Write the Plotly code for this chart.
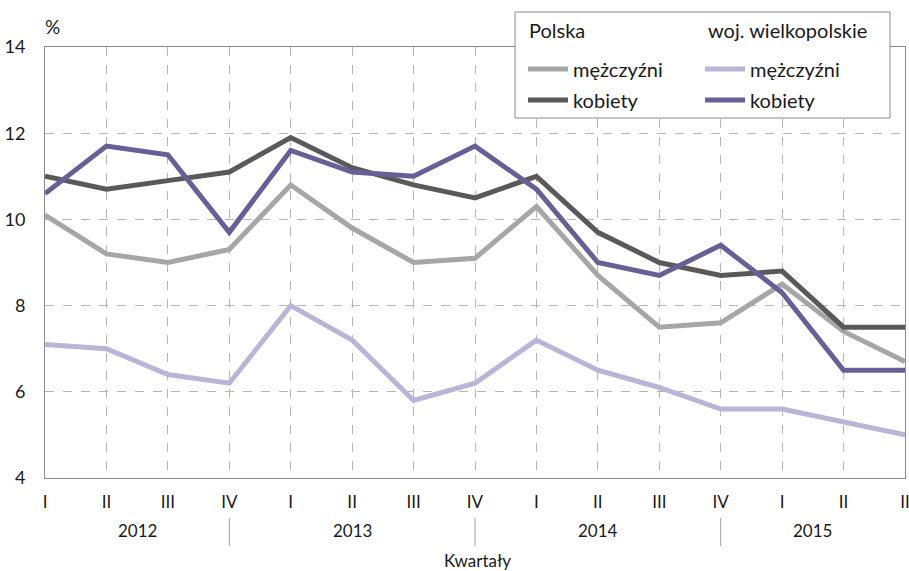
import plotly.graph_objects as go

quarters = ["I", "II", "III", "IV", "I", "II", "III", "IV", "I", "II", "III", "IV", "I", "II", "II"]
years = ["2012", "2013", "2014", "2015"]
year_centers = [1.5, 5, 9, 12.5]
year_separators = [3, 7, 11]

polska_m = [10.1, 9.2, 9.0, 9.3, 10.8, 9.8, 9.0, 9.1, 10.3, 8.7, 7.5, 7.6, 8.5, 7.4, 6.7]
polska_k = [11.0, 10.7, 10.9, 11.1, 11.9, 11.2, 10.8, 10.5, 11.0, 9.7, 9.0, 8.7, 8.8, 7.5, 7.5]
wlkp_m = [7.1, 7.0, 6.4, 6.2, 8.0, 7.2, 5.8, 6.2, 7.2, 6.5, 6.1, 5.6, 5.6, 5.3, 5.0]
wlkp_k = [10.6, 11.7, 11.5, 9.7, 11.6, 11.1, 11.0, 11.7, 10.7, 9.0, 8.7, 9.4, 8.3, 6.5, 6.5]

x = list(range(len(quarters)))
FONT = "Lato"
TXT = "#1a1a1a"
W, H = 909, 571
L, R, T, B = 45, 4, 47, 93
pw, ph = W - L - R, H - T - B

def px_x(p):
    return (p - L) / pw

def px_y(p):
    return (H - B - p) / ph

fig = go.Figure()
# (values, name, colour, legend id, legend left px, legend row centre px)
series = [
    (polska_m, "mężczyźni", "#a6a6a6", "legend", 523, 69),
    (polska_k, "kobiety", "#5b5859", "legend2", 523, 100),
    (wlkp_m, "mężczyźni", "#bbb4d7", "legend3", 700, 69),
    (wlkp_k, "kobiety", "#676097", "legend4", 700, 100),
]
order = [2, 0, 1, 3]
for i in order:
    vals, name, col, lg, _, _ = series[i]
    fig.add_trace(go.Scatter(x=x, y=vals, mode="lines", name=name,
                             line=dict(color=col, width=5), legend=lg,
                             hoverinfo="skip"))

legends = {}
for vals, name, col, lg, lx, ly in series:
    legends[lg] = dict(
        x=px_x(lx), y=px_y(ly), xref="paper", yref="paper",
        xanchor="left", yanchor="middle",
        bgcolor="rgba(0,0,0,0)", borderwidth=0,
        font=dict(family=FONT, size=20, color=TXT),
        itemwidth=40,
    )

shapes = []
for s in year_separators:
    shapes.append(dict(type="line", xref="x", yref="paper", x0=s, x1=s,
                       y0=px_y(518), y1=px_y(546), line=dict(color="#a0a0a0", width=1)))
shapes.append(dict(type="rect", xref="paper", yref="paper", layer="above",
                   x0=px_x(515), x1=px_x(890), y0=px_y(118), y1=px_y(12),
                   fillcolor="white", line=dict(color="#8c8c8c", width=1)))

annotations = []
for yr, c in zip(years, year_centers):
    annotations.append(dict(x=c, y=px_y(530), xref="x", yref="paper", text=yr,
                            showarrow=False, font=dict(size=17, color=TXT),
                            xanchor="center", yanchor="middle"))
annotations.append(dict(x=px_x(477), y=px_y(560), xref="paper", yref="paper", text="Kwartały",
                        showarrow=False, font=dict(size=17, color=TXT),
                        xanchor="center", yanchor="middle"))
annotations.append(dict(x=px_x(52), y=px_y(27), xref="paper", yref="paper", text="%",
                        showarrow=False, font=dict(size=19, color=TXT),
                        xanchor="center", yanchor="middle"))
annotations.append(dict(x=px_x(527), y=px_y(30), xref="paper", yref="paper", text="Polska",
                        showarrow=False, font=dict(size=20, color=TXT),
                        xanchor="left", yanchor="middle"))
annotations.append(dict(x=px_x(706), y=px_y(30), xref="paper", yref="paper", text="woj. wielkopolskie",
                        showarrow=False, font=dict(size=20, color=TXT),
                        xanchor="left", yanchor="middle"))

fig.update_layout(
    width=W, height=H,
    margin=dict(l=L, r=R, t=T, b=B, autoexpand=False),
    paper_bgcolor="white", plot_bgcolor="white",
    font=dict(family=FONT, size=16, color=TXT),
    showlegend=True,
    xaxis=dict(range=[0, 14], tickvals=x, ticktext=quarters, showgrid=True,
               gridcolor="#b5b5b5", griddash="dash", gridwidth=1,
               showline=True, linecolor="#8c8c8c", linewidth=1, mirror=True,
               ticks="", ticklabelstandoff=9, zeroline=False, automargin=False,
               ticklabeloverflow="allow",
               tickfont=dict(size=17, color=TXT)),
    yaxis=dict(range=[4, 14], tickvals=[4, 6, 8, 10, 12, 14], showgrid=True,
               gridcolor="#b5b5b5", griddash="dash", gridwidth=1,
               showline=True, linecolor="#8c8c8c", linewidth=1, mirror=True,
               ticks="", ticklabelstandoff=15, zeroline=False, automargin=False,
               tickfont=dict(size=18, color=TXT)),
    shapes=shapes,
    annotations=annotations,
    **legends,
)

fig.write_html("out.html", config={"displayModeBar": False},
               post_script="document.body.style.margin='0';")
